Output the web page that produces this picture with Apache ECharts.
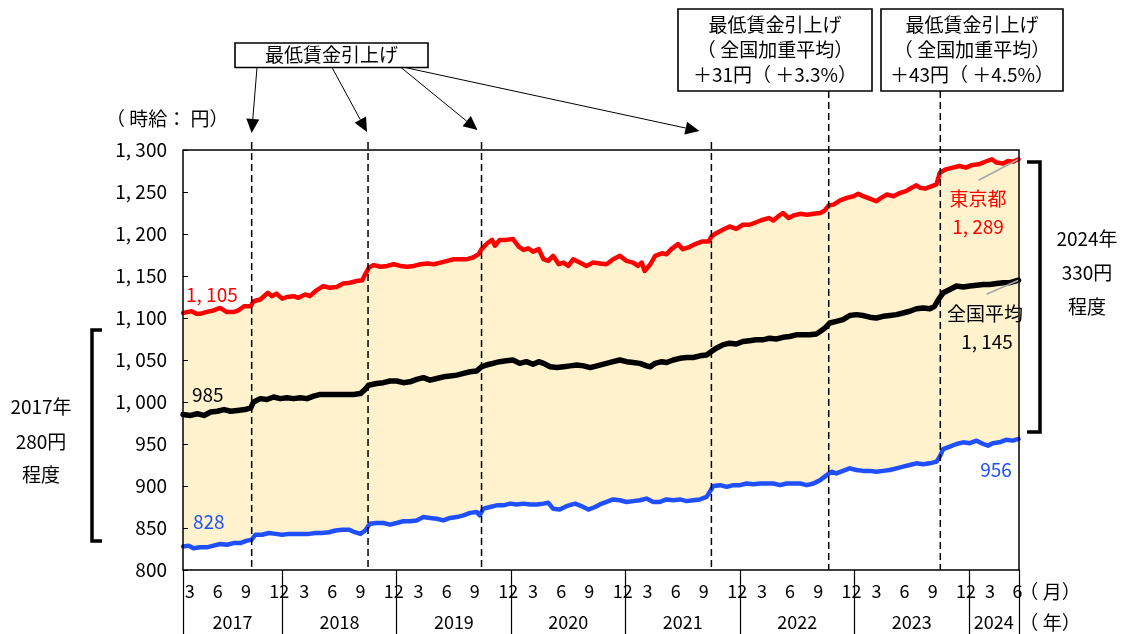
<!DOCTYPE html>
<html>
<head>
<meta charset="utf-8">
<script src="https://cdn.jsdelivr.net/npm/echarts@6/dist/echarts.min.js"></script>
<style>
  html, body { margin: 0; padding: 0; background: #fff; }
  #chart { width: 1122px; height: 634px; }
</style>
</head>
<body>
<div id="chart"></div>
<script>
const FONT = '"Noto Sans CJK JP", "Noto Sans", sans-serif';

// x = months since Jan 2017
const xMin = 1.6;
const xMax = 89.25;
const yearEdges = [1.6, 12, 24, 36, 48, 60, 72, 84, 89.25];
const monthTickPos = [2.3, 5.25, 8.2, 11.7, 14.3, 17.25, 20.2, 23.7, 26.3, 29.25, 32.2, 35.7,
  38.3, 41.25, 44.2, 47.7, 50.3, 53.25, 56.2, 59.7, 62.3, 65.25, 68.2, 71.7,
  74.3, 77.25, 80.2, 83.7, 86.2, 89.1];
const monthTickText = ['3', '6', '9', '12', '3', '6', '9', '12', '3', '6', '9', '12',
  '3', '6', '9', '12', '3', '6', '9', '12', '3', '6', '9', '12',
  '3', '6', '9', '12', '3', '6'];
const yearPos = [6.8, 18, 30, 42, 54, 66, 78, 86.6];
const yearText = ['2017', '2018', '2019', '2020', '2021', '2022', '2023', '2024'];
// 最低賃金引上げ timing
const raiseMonths = [8.8, 21.0, 32.9, 57.0, 69.3, 81.0];

// 東京都
const tokyo = [[1.6,1106],[2.0,1107],[2.5,1108],[2.7,1110],[3.0,1105],[3.4,1105],[4.0,1107],[4.8,1109],[5.5,1112],[5.7,1113],
  [6.2,1107],[6.9,1107],[7.4,1109],[8.0,1114],[8.7,1114],[9.0,1120],[9.7,1122],[10.5,1130],[10.9,1126],[11.4,1129],
  [12.0,1123],[12.5,1125],[13.2,1126],[13.7,1124],[14.4,1128],[14.9,1126],[15.6,1133],[16.3,1138],[17.0,1136],[17.7,1137],
  [18.4,1141],[19.1,1142],[19.8,1144],[20.4,1145],[20.7,1152],[21.1,1160],[21.6,1163],[22.3,1161],[23.0,1162],[23.7,1164],
  [24.4,1162],[25.1,1161],[25.8,1162],[26.5,1164],[27.2,1165],[27.9,1164],[28.6,1166],[29.3,1168],[30.0,1170],[30.7,1170],
  [31.4,1170],[32.0,1172],[32.6,1176],[32.9,1182],[33.5,1189],[34.0,1193],[34.3,1186],[34.8,1193],[35.5,1193],[36.2,1194],
  [36.8,1185],[37.3,1181],[37.8,1183],[38.3,1179],[38.9,1182],[39.4,1170],[39.9,1168],[40.4,1174],[41.0,1164],[41.5,1166],
  [42.0,1162],[42.5,1170],[43.2,1166],[43.9,1162],[44.6,1166],[45.3,1165],[46.0,1164],[46.7,1170],[47.4,1174],[48.1,1168],
  [48.8,1166],[49.3,1162],[49.7,1166],[50.0,1156],[50.6,1164],[51.1,1174],[51.8,1177],[52.3,1176],[52.8,1182],[53.5,1188],
  [54.0,1182],[54.6,1184],[55.3,1188],[56.0,1191],[56.7,1191],[57.0,1197],[57.5,1201],[58.2,1205],[58.9,1209],[59.6,1206],
  [60.3,1211],[61.0,1211],[61.7,1214],[62.4,1217],[63.0,1219],[63.5,1216],[64.0,1221],[64.5,1225],[65.1,1219],[65.6,1222],
  [66.3,1224],[67.0,1223],[67.7,1224],[68.4,1225],[68.9,1228],[69.3,1234],[69.8,1235],[70.5,1240],[71.2,1243],[71.9,1245],
  [72.4,1248],[72.9,1245],[73.6,1242],[74.3,1239],[74.8,1243],[75.4,1247],[76.1,1245],[76.8,1249],[77.4,1251],[78.0,1255],
  [78.5,1258],[78.9,1255],[79.4,1254],[79.9,1256],[80.6,1259],[80.95,1273],[81.6,1277],[82.3,1279],[83.0,1281],[83.7,1279],
  [84.3,1282],[85.0,1283],[85.7,1286],[86.4,1289],[86.9,1285],[87.6,1284],[88.1,1287],[88.6,1286],[89.2,1289]];

// 全国平均
const average = [[1.6,985],[2.4,984],[3.1,986],[3.8,984],[4.5,988],[5.2,989],[5.9,991],[6.6,989],[7.3,990],[8.1,991],
  [8.7,993],[9.0,1000],[9.7,1004],[10.4,1003],[11.1,1006],[11.8,1004],[12.5,1005],[13.2,1004],[13.9,1005],[14.6,1004],
  [15.3,1007],[16.0,1009],[16.7,1009],[17.4,1009],[18.1,1009],[18.8,1009],[19.5,1009],[20.2,1010],[20.7,1015],[21.05,1020],
  [21.9,1022],[22.6,1023],[23.3,1025],[24.0,1025],[24.7,1023],[25.4,1024],[26.1,1027],[26.8,1029],[27.5,1026],[28.2,1028],
  [28.9,1030],[29.6,1031],[30.3,1032],[31.0,1034],[31.7,1036],[32.4,1037],[32.9,1042],[33.4,1044],[34.1,1046],[34.8,1048],
  [35.5,1049],[36.2,1050],[36.9,1046],[37.6,1048],[38.3,1045],[38.9,1048],[39.4,1046],[40.1,1042],[40.8,1041],[41.5,1042],
  [42.2,1043],[42.9,1044],[43.6,1043],[44.3,1041],[45.3,1044],[46.0,1046],[46.7,1048],[47.4,1050],[48.1,1048],[48.8,1047],
  [49.5,1046],[50.2,1043],[50.6,1042],[51.1,1046],[51.8,1048],[52.3,1047],[53.0,1050],[53.7,1052],[54.4,1053],[55.1,1053],
  [55.8,1055],[56.5,1056],[57.0,1060],[57.5,1064],[58.2,1068],[58.9,1070],[59.6,1069],[60.3,1072],[61.0,1073],[61.7,1074],
  [62.4,1074],[63.1,1076],[63.8,1075],[64.5,1077],[65.2,1078],[65.9,1080],[66.6,1080],[67.3,1080],[68.0,1081],[68.4,1084],
  [68.9,1088],[69.4,1094],[70.1,1096],[70.8,1098],[71.5,1103],[72.2,1104],[72.9,1103],[73.6,1101],[74.3,1100],[75.0,1102],
  [75.7,1103],[76.4,1104],[77.1,1106],[77.8,1108],[78.5,1111],[79.2,1112],[79.9,1111],[80.4,1114],[80.8,1122],[81.3,1130],
  [82.0,1134],[82.7,1138],[83.4,1137],[84.1,1138],[84.8,1139],[85.5,1140],[86.2,1140],[86.9,1141],[87.6,1142],[88.3,1142],
  [89.2,1145]];

// 最低（都道府県）
const lowest = [[1.6,828],[2.2,829],[2.7,826],[3.4,827],[4.1,827],[4.8,829],[5.5,831],[6.2,830],[6.9,832],[7.6,832],
  [8.3,835],[8.8,836],[9.2,842],[9.9,842],[10.6,844],[11.3,843],[12.0,842],[12.7,843],[13.4,843],[14.1,843],
  [14.8,843],[15.5,844],[16.2,844],[16.9,845],[17.6,847],[18.3,848],[19.0,848],[19.6,845],[20.2,843],[20.7,847],
  [21.2,855],[21.9,856],[22.6,856],[23.3,854],[24.0,856],[24.7,858],[25.4,858],[26.1,859],[26.8,863],[27.5,862],
  [28.2,861],[28.9,859],[29.6,862],[30.3,863],[31.0,865],[31.7,868],[32.4,869],[32.7,865],[33.1,873],[33.8,875],
  [34.5,877],[35.2,877],[35.9,879],[36.6,878],[37.3,879],[38.0,878],[38.7,878],[39.4,879],[39.9,880],[40.4,873],
  [41.1,872],[41.8,876],[42.7,879],[43.4,876],[44.1,872],[44.8,875],[45.3,878],[46.0,881],[46.7,884],[47.4,883],
  [48.1,881],[48.8,882],[49.5,883],[50.2,885],[50.9,881],[51.6,881],[52.3,884],[53.0,883],[53.7,884],[54.4,882],
  [55.1,883],[55.8,884],[56.5,887],[57.2,900],[57.9,901],[58.6,899],[59.3,901],[60.0,901],[60.7,903],[61.4,902],
  [62.1,903],[62.8,903],[63.5,903],[64.2,901],[64.9,903],[65.6,903],[66.3,903],[67.0,901],[67.7,903],[68.4,907],
  [69.1,913],[69.6,917],[70.1,915],[70.8,918],[71.5,921],[72.2,919],[72.9,918],[73.6,918],[74.3,917],[75.0,918],
  [75.7,919],[76.4,921],[77.1,923],[77.8,925],[78.5,927],[79.2,926],[79.9,927],[80.6,929],[80.95,935],[81.3,944],
  [82.0,947],[82.7,950],[83.4,952],[84.1,951],[84.8,954],[85.5,950],[86.0,948],[86.5,951],[87.2,952],[87.9,955],
  [88.6,954],[89.2,956]];

const nearestIdx = (arr, v) => {
  let best = 0;
  arr.forEach((p, i) => { if (Math.abs(p - v) < Math.abs(arr[best] - v)) best = i; });
  return best;
};

const yenLabel = v => v >= 1000 ? Math.floor(v / 1000) + ', ' + String(v % 1000).padStart(3, '0') : String(v);

const chart = echarts.init(document.getElementById('chart'));

const option = {
  animation: false,
  backgroundColor: '#fff',
  grid: { left: 183, top: 150, width: 836, height: 420 },
  xAxis: [
    {
      type: 'value', min: xMin, max: xMax, position: 'bottom',
      axisLine: { show: true, onZero: false, lineStyle: { color: '#000', width: 1.5 } },
      axisTick: { show: true, customValues: yearEdges, inside: false, length: 64, lineStyle: { color: '#000', width: 1.2 } },
      axisLabel: {
        customValues: monthTickPos,
        formatter: v => monthTickText[nearestIdx(monthTickPos, v)],
        margin: 12, fontSize: 18, color: '#000', fontFamily: FONT
      },
      splitLine: { show: false },
      z: 10
    },
    {
      type: 'value', min: xMin, max: xMax, position: 'bottom',
      axisLine: { show: false, onZero: false },
      axisTick: { show: false },
      axisLabel: {
        customValues: yearPos,
        formatter: v => yearText[nearestIdx(yearPos, v)],
        margin: 43, fontSize: 18, color: '#000', fontFamily: FONT
      },
      splitLine: { show: false }
    }
  ],
  yAxis: {
    type: 'value', min: 800, max: 1300, interval: 50,
    axisLine: { show: true, lineStyle: { color: '#000', width: 1.5 } },
    axisTick: { show: true, inside: true, length: 5, lineStyle: { color: '#000' } },
    axisLabel: { formatter: yenLabel, margin: 16, fontSize: 19, color: '#000', fontFamily: FONT },
    splitLine: { show: false },
    z: 10
  },
  series: [
    {
      // band between 東京都 and the lowest prefecture
      type: 'custom', silent: true, z: 1,
      data: [[xMin, 800]],
      renderItem: (params, api) => {
        const pts = tokyo.map(p => api.coord(p))
          .concat(lowest.slice().reverse().map(p => api.coord(p)));
        return { type: 'polygon', shape: { points: pts }, style: { fill: '#FFF2CC' } };
      }
    },
    {
      name: '東京都', type: 'line', data: tokyo, showSymbol: false, z: 3,
      lineStyle: { color: '#FF0000', width: 4.5, cap: 'round', join: 'round' }
    },
    {
      name: '全国平均', type: 'line', data: average, showSymbol: false, z: 3,
      lineStyle: { color: '#000000', width: 5.5, cap: 'round', join: 'round' }
    },
    {
      name: '最低', type: 'line', data: lowest, showSymbol: false, z: 3,
      lineStyle: { color: '#1F4FFF', width: 4.5, cap: 'round', join: 'round' }
    }
  ]
};

chart.setOption(option);

// annotations placed from the axis scale
const px = (m, v) => chart.convertToPixel({ gridIndex: 0 }, [m, v]);
const g = [];
const txt = (text, x, y, color, align, size) => g.push({
  type: 'text', z: 20, x: x, y: y,
  style: { text: text, fill: color || '#000', font: (size || 19) + 'px ' + FONT, align: align || 'center', verticalAlign: 'middle' }
});
const line = (x1, y1, x2, y2, stroke, width, dash) => g.push({
  type: 'line', z: 15, shape: { x1: x1, y1: y1, x2: x2, y2: y2 },
  style: { stroke: stroke, lineWidth: width, lineDash: dash || null }
});
const arrow = (x1, y1, x2, y2) => {
  const dx = x2 - x1, dy = y2 - y1, len = Math.hypot(dx, dy);
  const ux = dx / len, uy = dy / len, hl = 14, hw = 6.5;
  const bx = x2 - ux * hl, by = y2 - uy * hl;
  line(x1, y1, bx, by, '#000', 1);
  g.push({
    type: 'polygon', z: 15,
    shape: { points: [[x2, y2], [bx - uy * hw, by + ux * hw], [bx + uy * hw, by - ux * hw]] },
    style: { fill: '#000' }
  });
};
const box = (x, y, w, h, lines, lh) => {
  g.push({ type: 'rect', z: 15, shape: { x: x, y: y, width: w, height: h }, style: { fill: '#fff', stroke: '#000', lineWidth: 1.6 } });
  const top = y + h / 2 - (lines.length - 1) * lh / 2;
  lines.forEach((t, i) => txt(t, x + w / 2, top + i * lh));
};

// plot frame (top and right edges)
const pTL = px(xMin, 1300), pBR = px(xMax, 800);
g.push({ type: 'polyline', z: 16, shape: { points: [[pTL[0], pTL[1]], [pBR[0], pTL[1]], [pBR[0], pBR[1]]] },
  style: { stroke: '#000', lineWidth: 1.5, fill: null } });

const yBottom = pBR[1];
raiseMonths.forEach((m, i) => {
  const x = px(m, 800)[0];
  line(x, i < 4 ? 142 : 91, x, yBottom, '#000', 1.5, [7, 4]);
});

box(235, 43, 193, 24.5, ['最低賃金引上げ'], 25);
box(678, 9, 194, 82, ['最低賃金引上げ', '（ 全国加重平均）', '＋31円（ ＋3.3%）'], 25);
box(881, 9, 182, 82, ['最低賃金引上げ', '（ 全国加重平均）', '＋43円（ ＋4.5%）'], 25);

const tipY = [133, 132, 130, 131];
const tipShift = [0, -1, -4, -12];
const startX = [257, 332, 401, 405];
[0, 1, 2, 3].forEach(i => {
  const x = px(raiseMonths[i], 800)[0];
  arrow(startX[i], 67.5, x + tipShift[i], tipY[i]);
});

txt('（ 時給： 円）', 106, 119, '#000', 'left');
txt('（ 月）', 1050, 592);
txt('（ 年）', 1050, 623);

// brackets
g.push({ type: 'polyline', z: 15, shape: { points: [[102, 330], [92, 330], [92, 541], [102, 541]] },
  style: { stroke: '#000', lineWidth: 3.5, fill: null } });
g.push({ type: 'polyline', z: 15, shape: { points: [[1027, 162], [1040, 162], [1040, 432], [1027, 432]] },
  style: { stroke: '#000', lineWidth: 3.5, fill: null } });
txt('2017年', 41, 407); txt('280円', 41, 442); txt('程度', 41, 475);
txt('2024年', 1087, 239); txt('330円', 1087, 273); txt('程度', 1087, 307);

// series labels
txt('1, 105', 186, 295, '#FF0000', 'left');
txt('985', 192, 395, '#000', 'left');
txt('828', 193, 522, '#1F4FFF', 'left');
txt('東京都', 978, 199, '#FF0000');
txt('1, 289', 978, 227, '#FF0000');
txt('全国平均', 985, 314, '#000');
txt('1, 145', 987, 342, '#000');
txt('956', 996, 470, '#1F4FFF');

const tEnd = px(tokyo[tokyo.length - 1][0], tokyo[tokyo.length - 1][1]);
const aEnd = px(average[average.length - 1][0], average[average.length - 1][1]);
line(tEnd[0] - 40, tEnd[1] + 21, tEnd[0], tEnd[1], '#A6A6A6', 1.5);
line(aEnd[0] - 32, aEnd[1] + 14, aEnd[0], aEnd[1], '#A6A6A6', 1.5);

chart.setOption({ graphic: g });
</script>
</body>
</html>
